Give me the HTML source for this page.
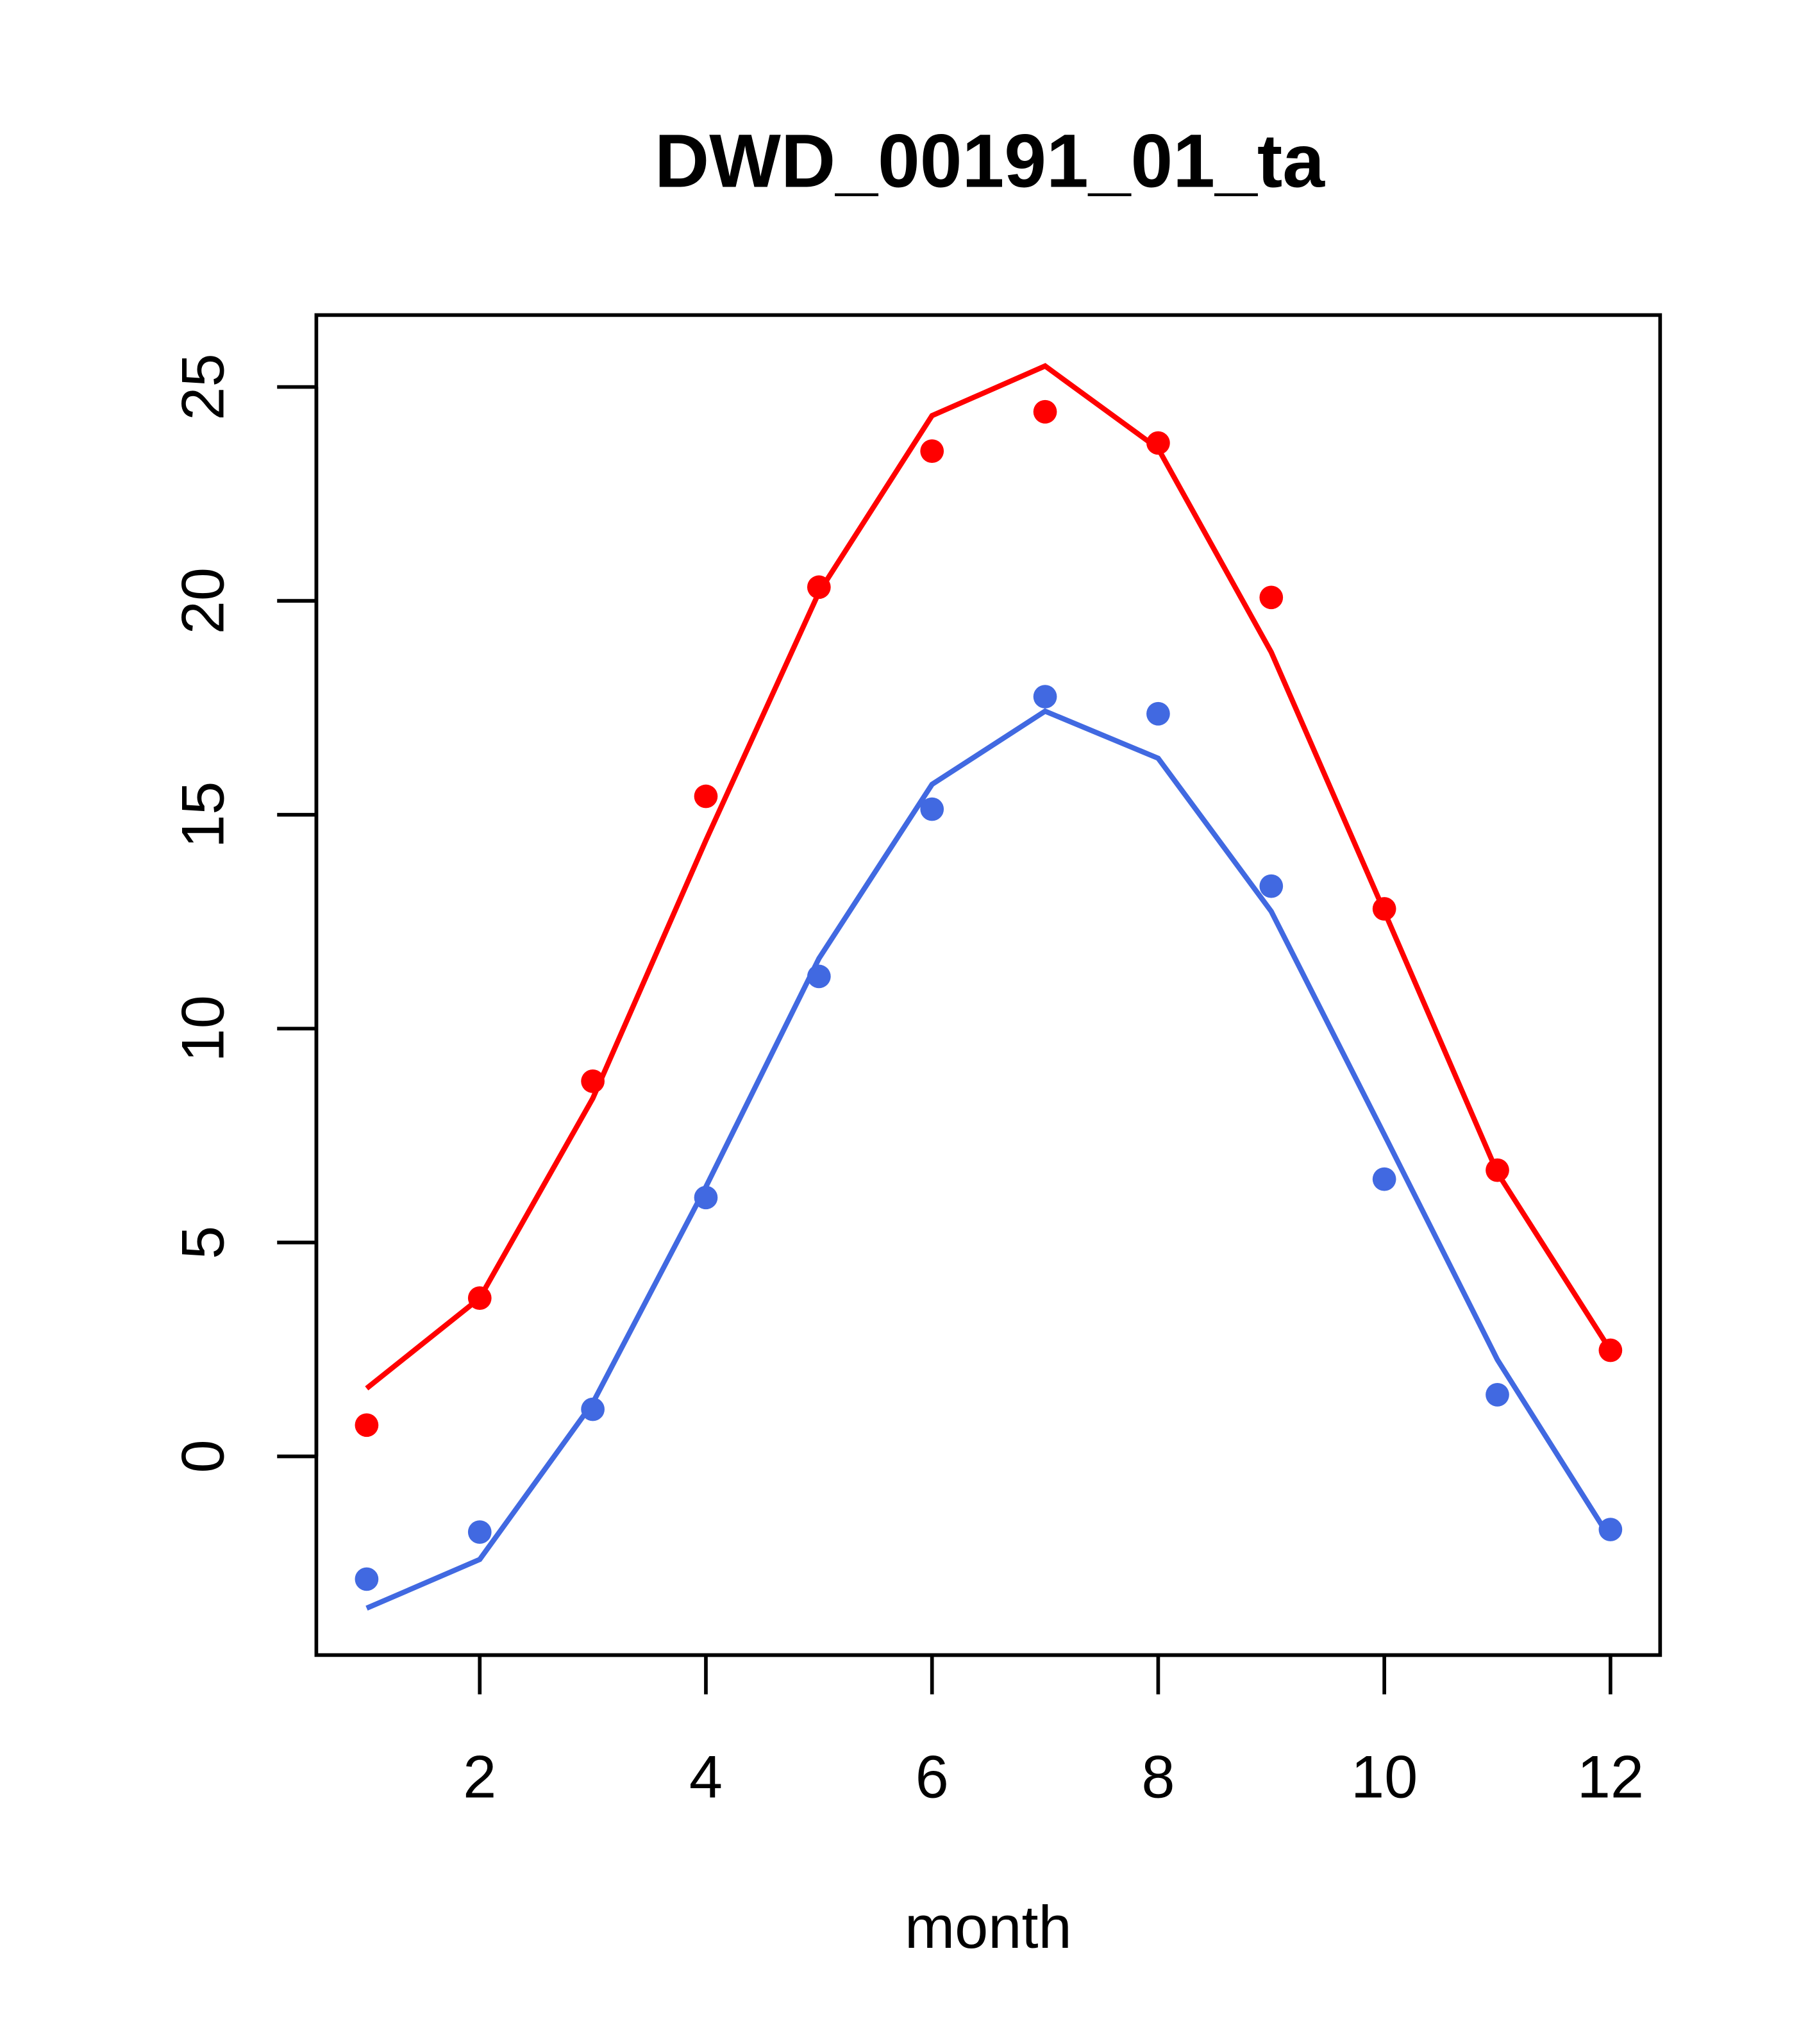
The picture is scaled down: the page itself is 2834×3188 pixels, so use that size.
<!DOCTYPE html>
<html><head><meta charset="utf-8"><style>
html,body{margin:0;padding:0;background:#fff}
svg{display:block}
text{font-family:"Liberation Sans",Arial,sans-serif;fill:#000}
</style></head><body>
<svg id="chart" width="2834" height="3188" viewBox="0 0 1390 1563.5" preserveAspectRatio="none" xmlns="http://www.w3.org/2000/svg">
<rect width="1390" height="1563.5" fill="#fff"/>
<text x="757" y="143" font-size="58" font-weight="bold" text-anchor="middle">DWD_00191_01_ta</text>
<rect x="242" y="241" width="1028" height="1025" fill="none" stroke="#000" stroke-width="2.8"/>
<text x="756" y="1490" font-size="46" text-anchor="middle">month</text>
<g id="xaxis"></g>
<g id="yaxis"></g>
<g id="series"></g>
</svg>
<script>
const months = [1,2,3,4,5,6,7,8,9,10,11,12];
const xTicks = [2,4,6,8,10,12];
const yTicks = [0,5,10,15,20,25];
const redPoints = [0.73,3.7,8.77,15.43,20.32,23.5,24.42,23.69,20.08,12.8,6.69,2.48];
const redLine = [1.59,3.7,8.37,14.4,20.2,24.33,25.49,23.56,18.8,12.74,6.63,2.48];
const bluePoints = [-2.87,-1.77,1.1,6.05,11.22,15.13,17.76,17.36,13.33,6.48,1.44,-1.71];
const blueLine = [-3.55,-2.41,1.25,6.3,11.64,15.71,17.42,16.32,12.74,7.52,2.26,-1.93];

const NS = "http://www.w3.org/2000/svg";
function xs(m){ return 280.5 + (m-1)*86.5; }
function ys(v){ return 1114 - v*32.72; }
function mk(tag, attrs, parent){
  const e = document.createElementNS(NS, tag);
  for (const k in attrs) e.setAttribute(k, attrs[k]);
  parent.appendChild(e);
  return e;
}
const xa = document.getElementById('xaxis');
const ya = document.getElementById('yaxis');
const sg = document.getElementById('series');

mk('line',{x1:xs(xTicks[0]),x2:xs(xTicks[xTicks.length-1]),y1:1266,y2:1266,stroke:'#000','stroke-width':2.8},xa);
xTicks.forEach(t=>{
  const l = mk('line',{x1:xs(t),x2:xs(t),y1:1266,y2:1296,stroke:'#000','stroke-width':2.8},xa);
  
  
  const tx = mk('text',{x:xs(t),y:1375,'font-size':46,'text-anchor':'middle'},xa);
  tx.textContent = t;
  
  
});
mk('line',{x1:242,x2:242,y1:ys(yTicks[0]),y2:ys(yTicks[yTicks.length-1]),stroke:'#000','stroke-width':2.8},ya);
yTicks.forEach(t=>{
  const l = mk('line',{x1:212,x2:242,y1:ys(t),y2:ys(t),stroke:'#000','stroke-width':2.8},ya);
  
  
  const tx = mk('text',{x:0,y:0,'font-size':46,'text-anchor':'middle',transform:'translate(171,'+ys(t)+') rotate(-90)'},ya);
  tx.textContent = t;
  
  
});
function drawLine(vals,color,name){
  const p = mk('polyline',{points:months.map((m,i)=>xs(m)+','+ys(vals[i])).join(' '),fill:'none',stroke:color,'stroke-width':4},sg);
  
  
}
function drawPts(vals,color,name){
  months.forEach((m,i)=>{
    const c = mk('circle',{cx:xs(m),cy:ys(vals[i]),r:9,fill:color},sg);
    
    
  });
}
drawLine(redLine,'#ff0000','red-line');
drawLine(blueLine,'#4169e1','blue-line');
drawPts(redPoints,'#ff0000','red-point');
drawPts(bluePoints,'#4169e1','blue-point');
</script>
</body></html>
